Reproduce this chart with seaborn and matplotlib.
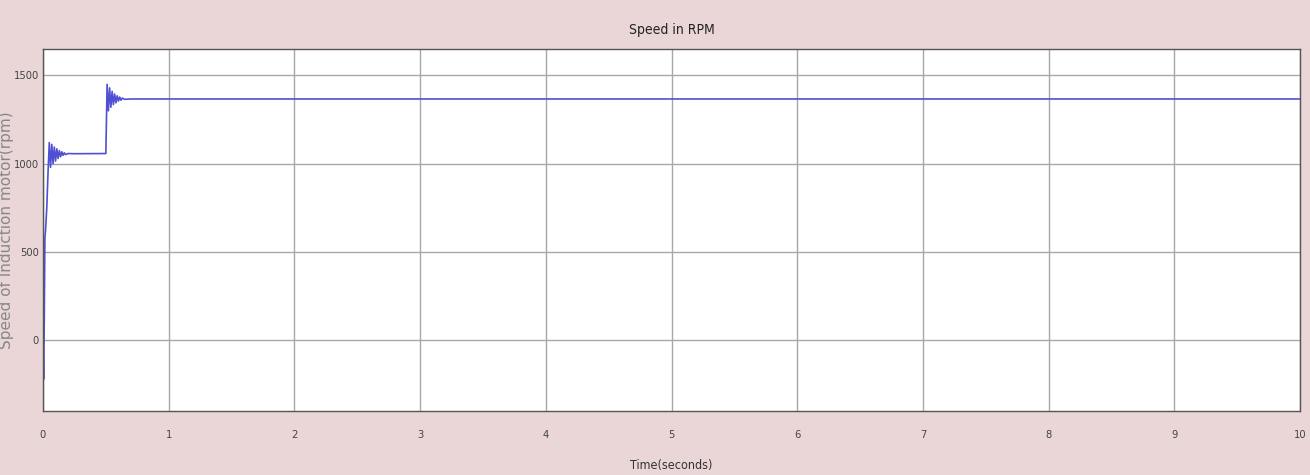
import numpy as np
import pandas as pd
import matplotlib
matplotlib.use("Agg")
import matplotlib.pyplot as plt
import seaborn as sns

# speed trace
time_s = [0.0, 0.005, 0.01, 0.015, 0.02, 0.03, 0.04, 0.05, 0.06, 0.07, 0.08, 0.09,
          0.10, 0.11, 0.12, 0.13, 0.14, 0.15, 0.16, 0.17, 0.18, 0.20, 0.25, 0.50,
          0.51, 0.52, 0.53, 0.54, 0.55, 0.56, 0.57, 0.58, 0.59, 0.60, 0.61, 0.62,
          0.63, 0.65, 0.70, 10.0]
speed_rpm = [0, -220, 100, 580, 620, 750, 950, 1120, 980, 1110, 1000, 1095,
             1015, 1085, 1030, 1075, 1040, 1068, 1048, 1062, 1052, 1058, 1057, 1058,
             1450, 1300, 1430, 1320, 1410, 1335, 1395, 1345, 1385, 1355, 1378, 1360,
             1372, 1365, 1367, 1367]
x_ticks = list(range(0, 11))
y_ticks = [0, 500, 1000, 1500]

df = pd.DataFrame({"t": time_s, "speed": speed_rpm})

sns.set_style("white")
plt.rcParams['font.family'] = ['DejaVu Sans']
plt.rcParams['font.stretch'] = 'condensed'

bg = "#ead6d7"
fig = plt.figure(figsize=(13.1, 4.75), dpi=100, facecolor=bg)
ax = fig.add_axes([43 / 1310, 64 / 475, 1257 / 1310, 362 / 475])
ax.set_facecolor("white")

sns.lineplot(data=df, x="t", y="speed", ax=ax, color="#5050d2", linewidth=1.2)

ax.set_xlim(0, 10)
ax.set_ylim(-400, 1650)
ax.set_xticks(x_ticks)
ax.set_yticks(y_ticks)
ax.grid(True, color="#a8a8a8", linewidth=1.0)
ax.tick_params(direction="in", length=5, colors="black", labelsize=8,
               labelcolor="#444444", pad=3)
ax.tick_params(axis="x", pad=14)
for s in ax.spines.values():
    s.set_color("#555555")
    s.set_linewidth(1.0)

ax.set_title("Speed in RPM", fontsize=10, color="#222222", pad=11)
ax.set_xlabel("Time(seconds)", fontsize=9, color="#333333", labelpad=13)
ax.set_ylabel("Speed of Induction motor(rpm)", fontsize=11, color="#888888",
              fontstretch="normal")
ax.yaxis.set_label_coords(-29 / 1257, 0.5)

fig.savefig("out.png", dpi=100, facecolor=bg)
